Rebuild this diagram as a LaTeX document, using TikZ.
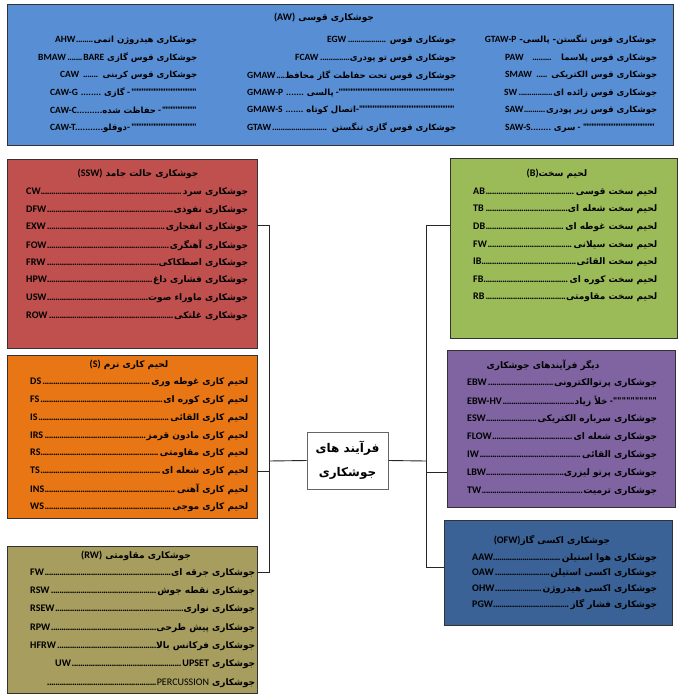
\documentclass[tikz,border=0pt]{standalone}
\usepackage{fontspec}
\TeXXeTstate=1
\newfontfamily\arfont[Script=Arabic]{DejaVu Sans}
\newfontfamily\latfont[Scale=1.12]{Carlito}
\newcommand\ar[1]{{\arfont\bfseries\beginR #1\endR}}
\newcommand\la[1]{{\latfont\bfseries #1}}
\newcommand\dfill{\leaders\hbox to 2.1pt{\hss\la{.}\hss}\hfill}
\newcommand\qfill{\leaders\hbox to 3.4pt{\hss\la{"}\hss}\hfill}
\newcommand\rowx[3]{\hbox to #1pt{\la{#2}\dfill\ar{#3}}}
\definecolor{awblue}{RGB}{88,142,212}
\definecolor{sswred}{RGB}{192,80,77}
\definecolor{sorange}{RGB}{232,118,20}
\definecolor{rwolive}{RGB}{166,157,94}
\definecolor{bgreen}{RGB}{155,187,89}
\definecolor{opurple}{RGB}{128,100,162}
\definecolor{ofwblue}{RGB}{58,98,150}
\begin{document}
\begin{tikzpicture}[x=1pt,y=-1pt,
  box/.style={draw=black!80,line width=1pt,anchor=north west,inner sep=0,outer sep=0},
  rowtext/.style={inner sep=0,anchor=west,font=\fontsize{9}{10}\selectfont},
  awtext/.style={inner sep=0,anchor=west,font=\fontsize{8.5}{10}\selectfont},
  rowend/.style={inner sep=0,anchor=east,font=\fontsize{8.5}{10}\selectfont},
  ttl/.style={inner sep=0,anchor=center,font=\fontsize{9}{10}\selectfont},
  conn/.style={draw=black!85,line width=0.9pt},
  centerbox/.style={draw=black!60,line width=1pt,fill=white,minimum width=81pt,minimum height=57pt,inner sep=0,align=center,font=\fontsize{12}{24}\selectfont}]
\useasboundingbox (0,0) rectangle (682,698);
\fill[white] (0,0) rectangle (682,698);
% boxes
\node[box,fill=awblue,minimum width=666pt,minimum height=140pt] (aw) at (7,5) {};
\node[box,fill=sswred,minimum width=250pt,minimum height=189pt] (ssw) at (7,159) {};
\node[box,fill=sorange,minimum width=250pt,minimum height=163pt] (s) at (7,355) {};
\node[box,fill=rwolive,minimum width=250pt,minimum height=147pt] (rw) at (7,546) {};
\node[box,fill=bgreen,minimum width=227pt,minimum height=180pt] (b) at (450,158) {};
\node[box,fill=opurple,minimum width=228pt,minimum height=157pt] (oth) at (447,350) {};
\node[box,fill=ofwblue,minimum width=228pt,minimum height=105pt] (ofw) at (444,520) {};
\node[centerbox] (center) at (347.5,460.5) {\ar{فرآیند های}\\\ar{جوشکاری}};
% connectors
\coordinate (lt) at (269,225);
\coordinate (lm) at (269,471);
\coordinate (lc) at (269,461);
\coordinate (lb) at (269,572);
\coordinate (rt) at (426,225);
\coordinate (rm) at (426,472);
\coordinate (rc) at (426,461);
\coordinate (rb) at (426,567);
\draw[conn] (ssw.east |- lt) -- (lt) -- (lb) -- (rw.east |- lb);
\draw[conn] (s.east |- lm) -- (lm);
\draw[conn] (center.west) -- (lc);
\draw[conn] (center.east) -- (rc);
\draw[conn] (b.west |- rt) -- (rt) -- (rb) -- (ofw.west |- rb);
\draw[conn] (oth.west |- rm) -- (rm);
% AW box
\node[ttl] (awt) at (324,18) {\la{(AW)}\ \ar{جوشکاری قوسی}};
\node[rowend] (awr1) at (657,40) {\la{GTAW-P}\ \ar{جوشکاری قوس تنگستن- پالسی-}};
\node[awtext] (awr2) at (505,58) {\hbox to 152pt{\la{PAW}\hskip 8pt\dfill\hskip 8pt\ar{جوشکاری قوس پلاسما}}};
\node[awtext] (awr3) at (505,75.5) {\hbox to 152pt{\la{SMAW}\ \dfill\ \ar{جوشکاری قوس الکتریکی}}};
\node[awtext] (awr4) at (504,93) {\hbox to 153pt{\la{SW}\dfill\ar{جوشکاری قوس زائده ای}}};
\node[awtext] (awr5) at (505,110.5) {\hbox to 152pt{\la{SAW}\dfill\ar{جوشکاری قوس زیر پودری}}};
\node[awtext] (awr6) at (505,128) {\hbox to 152pt{\la{SAW-S........}\ \ar{سری}\la{\ -}\qfill}};
\node[awtext] (awm1) at (327,40) {\hbox to 129pt{\la{EGW}\dfill\ \ar{جوشکاری قوس}}};
\node[awtext] (awm2) at (295,58) {\hbox to 161pt{\la{FCAW}\dfill\ar{جوشکاری قوس تو پودری}}};
\node[awtext] (awm3) at (247,75.5) {\hbox to 209pt{\la{GMAW}\dfill\ar{جوشکاری قوس تحت حفاظت گاز محافظ}}};
\node[awtext] (awm4) at (247,93) {\hbox to 209pt{\la{GMAW-P}\ \la{.......}\ \ar{پالسی}\la{\ -}\qfill}};
\node[awtext] (awm5) at (247,110.5) {\hbox to 209pt{\la{GMAW-S}\ \la{.......}\ \ar{اتصال کوتاه}\la{-}\qfill}};
\node[awtext] (awm6) at (247,128) {\hbox to 209pt{\la{GTAW}\dfill\ \ar{جوشکاری قوس گازی تنگستن}}};
\node[awtext] (awl1) at (55,40) {\hbox to 142pt{\la{AHW}\dfill\ar{جوشکاری هیدروژن اتمی}}};
\node[awtext] (awl2) at (38,58) {\hbox to 159pt{\la{BMAW}\dfill\la{BARE}\ \ar{جوشکاری قوس گازی}}};
\node[awtext] (awl3) at (60,75.5) {\hbox to 137pt{\la{CAW}\ \dfill\ \ar{جوشکاری قوس کربنی}}};
\node[awtext] (awl4) at (50,93) {\hbox to 147pt{\la{CAW-G}\ \la{........}\ \ar{گازی}\la{\ -}\qfill}};
\node[awtext] (awl5) at (50,110.5) {\hbox to 147pt{\la{CAW-C..........}\ar{حفاظت شده}\la{\ -}\qfill}};
\node[awtext] (awl6) at (50,128) {\hbox to 147pt{\la{CAW-T...........}\ar{دوقلو}\la{-}\qfill}};
% SSW box
\node[ttl] (sswt) at (138,174) {\la{(SSW)}\ \ar{جوشکاری حالت جامد}};
\foreach \l/\p [count=\i] in {CW/جوشکاری سرد,DFW/جوشکاری نفوذی,EXW/جوشکاری انفجاری,FOW/جوشکاری آهنگری,FRW/جوشکاری اصطکاکی,HPW/جوشکاری فشاری داغ,USW/جوشکاری ماوراء صوت,ROW/جوشکاری غلتکی}
  \node[rowtext] (ssw\i) at (26,{192+17.7*(\i-1)}) {\rowx{222}{\l}{\p}};
% S box
\node[ttl] (st) at (129,365) {\la{(S)}\ \ar{لحیم کاری نرم}};
\foreach \l/\p [count=\i] in {DS/لحیم کاری غوطه وری,FS/لحیم کاری کوره ای,IS/لحیم کاری القائی,IRS/لحیم کاری مادون قرمز,RS/لحیم کاری مقاومتی,TS/لحیم کاری شعله ای,INS/لحیم کاری آهنی,WS/لحیم کاری موجی}
  \node[rowtext] (s\i) at (30,{382+17.9*(\i-1)}) {\rowx{218}{\l}{\p}};
% RW box
\node[ttl] (rwt) at (136,556) {\la{(RW)}\ \ar{جوشکاری مقاومتی}};
\foreach \l/\p [count=\i] in {FW/جوشکاری جرقه ای,RSW/جوشکاری نقطه جوش,RSEW/جوشکاری نواری,RPW/جوشکاری پیش طرحی,HFRW/جوشکاری فرکانس بالا}
  \node[rowtext] (rw\i) at (30,{573+18.3*(\i-1)}) {\rowx{225}{\l}{\p}};
\node[rowtext] (rw6) at (55,664.5) {\hbox to 200pt{\la{UW}\dfill\la{UPSET}\ \ar{جوشکاری}}};
\node[rowtext] (rw7) at (47,683) {\hbox to 208pt{\dfill{\latfont PERCUSSION}\ \ar{جوشکاری}}};
% B box
\node[ttl] (bt) at (557,174) {\la{(B)}\ar{لحیم سخت}};
\foreach \l/\p [count=\i] in {AB/لحیم سخت قوسی,TB/لحیم سخت شعله ای,DB/لحیم سخت غوطه ای,FW/لحیم سخت سیلانی,IB/لحیم سخت القائی,FB/لحیم سخت کوره ای,RB/لحیم سخت مقاومتی}
  \node[rowtext] (b\i) at (473,{192+17.6*(\i-1)}) {\rowx{184}{\l}{\p}};
% other processes box
\node[ttl] (otht) at (543,365) {\ar{دیگر فرآیندهای جوشکاری}};
\node[rowtext] (oth2) at (467,401) {\hbox to 190pt{\la{EBW-HV}\dfill\ar{خلأ زیاد}\la{\ -""""""""""}}};
\foreach \l/\p/\k in {EBW/جوشکاری پرتوالکترونی/1,ESW/جوشکاری سرباره الکتریکی/3,FLOW/جوشکاری شعله ای/4,IW/جوشکاری القائی/5,LBW/جوشکاری پرتو لیزری/6,TW/جوشکاری ترمیت/7}
  \node[rowtext] (oth\k) at (467,{383+18*(\k-1)}) {\rowx{190}{\l}{\p}};
% OFW box
\node[ttl] (ofwt) at (552,540) {\la{(OFW)}\ar{جوشکاری اکسی گاز}};
\foreach \l/\p [count=\i] in {AAW/جوشکاری هوا استیلن,OAW/جوشکاری اکسی استیلن,OHW/جوشکاری اکسی هیدروژن,PGW/جوشکاری فشار گاز}
  \node[rowtext] (ofw\i) at (472,{558+15.6*(\i-1)}) {\rowx{185}{\l}{\p}};
\end{tikzpicture}
\end{document}
